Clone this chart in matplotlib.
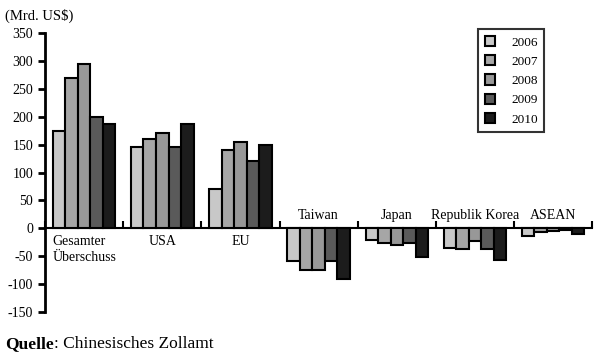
import numpy as np
import matplotlib.pyplot as plt
from matplotlib.patches import Patch

plt.rcParams["font.family"] = ["Liberation Serif", "DejaVu Serif"]
plt.rcParams["axes.unicode_minus"] = False

# Daten: Handelsbilanzüberschuss Chinas (Mrd. US$)
kategorien = ["Gesamter\nÜberschuss", "USA", "EU", "Taiwan", "Japan", "Republik Korea", "ASEAN"]
jahre = ["2006", "2007", "2008", "2009", "2010"]
werte_2006 = [175, 145, 70, -58, -20, -35, -14]
werte_2007 = [270, 160, 140, -74, -27, -36, -7]
werte_2008 = [295, 170, 155, -74, -30, -23, -5]
werte_2009 = [200, 145, 120, -58, -27, -37, -3]
werte_2010 = [187, 187, 150, -90, -51, -57, -10]
farben = ["#c8c8c8", "#a6a6a6", "#989898", "#5a5a5a", "#1c1c1c"]

reihen = [werte_2006, werte_2007, werte_2008, werte_2009, werte_2010]

fig = plt.figure(figsize=(6.0, 3.58), dpi=100)
ax = fig.add_axes([0.075, 0.128, 0.912, 0.78])

x = np.arange(len(kategorien))
breite = 0.16
for i, (werte, farbe) in enumerate(zip(reihen, farben)):
    ax.bar(x + (i - 2) * breite, werte, width=breite, color=farbe,
           edgecolor="black", linewidth=1.5, zorder=3)

ax.set_xlim(-0.5, len(kategorien) - 0.5)
ax.set_ylim(-150, 350)
ax.set_yticks(range(-150, 351, 50))
ax.tick_params(axis="y", direction="out", length=5, width=2, labelsize=10)

# x-Achse auf der Nulllinie, Teilstriche zwischen den Gruppen nach oben
ax.spines["bottom"].set_position(("data", 0))
ax.spines["bottom"].set_linewidth(1.5)
ax.spines["left"].set_linewidth(2)
ax.spines["top"].set_visible(False)
ax.spines["right"].set_visible(False)
ax.set_xticks(np.arange(len(kategorien) + 1) - 0.5)
ax.set_xticklabels([])
ax.tick_params(axis="x", direction="in", length=5, width=1.5)

for xi, name, w in zip(x, kategorien, werte_2006):
    if w >= 0:
        if "\n" in name:
            ax.text(xi - 0.4, -12, name, ha="left", va="top", fontsize=10,
                    linespacing=1.3)
        else:
            ax.text(xi, -12, name, ha="center", va="top", fontsize=10)
    else:
        ax.text(xi, 12, name, ha="center", va="bottom", fontsize=10)

handles = [Patch(facecolor=f, edgecolor="black", linewidth=1.5) for f in farben]
leg = fig.legend(handles, jahre, loc="upper left", bbox_to_anchor=(0.797, 0.918),
                 fontsize=9.5, frameon=True, fancybox=False, handlelength=0.8,
                 handleheight=0.8, handletextpad=1.2, labelspacing=0.5,
                 borderpad=0.5, borderaxespad=0)
leg.get_frame().set_edgecolor("black")
leg.get_frame().set_linewidth(1.5)

fig.text(0.008, 0.955, "(Mrd. US$)", fontsize=10.5, ha="left", va="center")
quelle = fig.text(0.008, 0.04, "Quelle", fontsize=12.5, fontweight="bold",
                  ha="left", va="center")
fig.canvas.draw()
rechts = quelle.get_window_extent().x1 / fig.bbox.width
fig.text(rechts, 0.04, ": Chinesisches Zollamt", fontsize=12.5, ha="left", va="center")

fig.savefig("out.png", dpi=100)
